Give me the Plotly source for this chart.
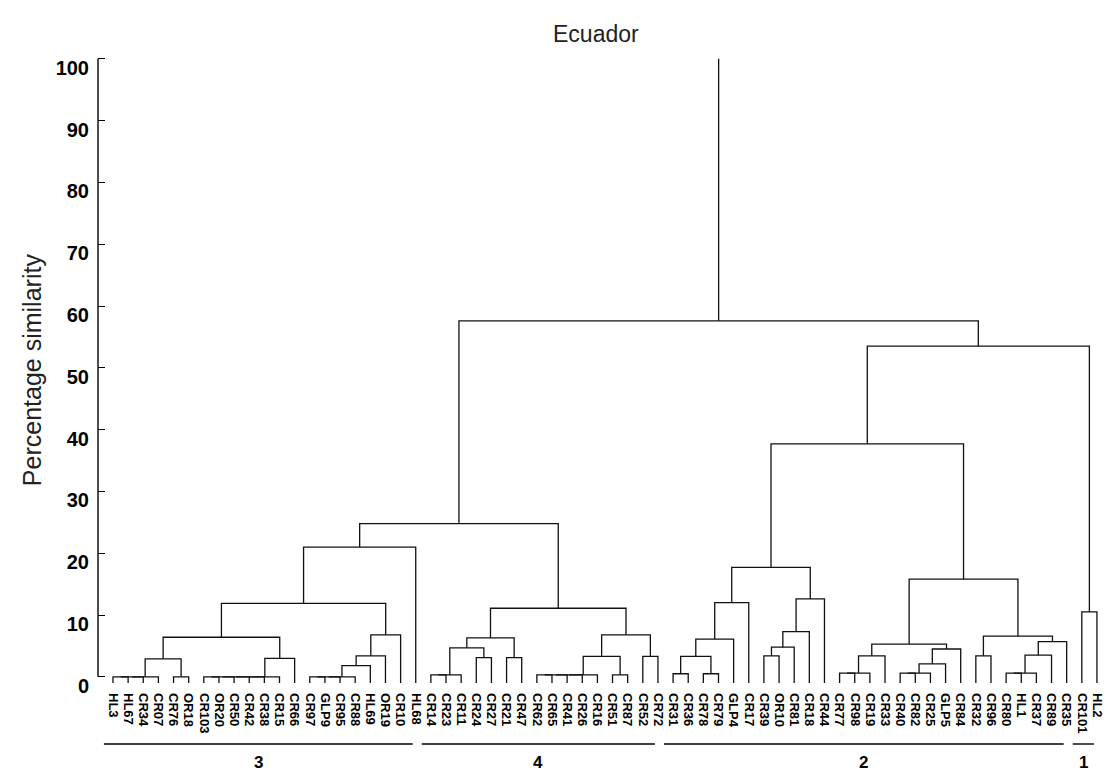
import plotly.graph_objects as go

# ---------------- data ----------------
leaves = ["HL3", "HL67", "CR34", "CR07", "CR76", "OR18", "CR103", "OR20", "CR50", "CR42",
          "CR38", "CR15", "CR66", "CR97", "GLP9", "CR95", "CR88", "HL69", "OR19", "CR10",
          "HL68",
          "CR14", "CR23", "CR11", "CR24", "CR27", "CR21", "CR47", "CR62", "CR65", "CR41",
          "CR26", "CR16", "CR51", "CR87", "CR52", "CR72",
          "CR31", "CR36", "CR78", "CR79", "GLP4", "CR17", "CR39", "OR10", "CR81", "CR18",
          "CR44", "CR77", "CR98", "CR19", "CR33", "CR40", "CR82", "CR25", "GLP5", "CR84",
          "CR32", "CR96", "CR80", "HL1", "CR37", "CR89", "CR35",
          "CR101", "HL2"]

# (node id, left child, right child, percentage similarity at merge)
merges_cluster3 = [
    ("a1", "HL3", "HL67", 0.0), ("a2", "a1", "CR34", 0.0), ("a3", "a2", "CR07", 0.0),
    ("a4", "CR76", "OR18", 0.0), ("a5", "a3", "a4", 2.9),
    ("a6", "CR103", "OR20", 0.0), ("a7", "a6", "CR50", 0.0), ("a8", "a7", "CR42", 0.0),
    ("a9", "a8", "CR38", 0.0), ("a10", "a9", "CR15", 0.0), ("a11", "a10", "CR66", 3.0),
    ("a12", "a5", "a11", 6.4),
    ("a13", "CR97", "GLP9", 0.0), ("a14", "a13", "CR95", 0.0), ("a15", "a14", "CR88", 0.0),
    ("a16", "a15", "HL69", 1.8), ("a17", "a16", "OR19", 3.4), ("a18", "a17", "CR10", 6.8),
    ("a19", "a12", "a18", 11.9), ("a20", "a19", "HL68", 21.0),
]
merges_cluster4 = [
    ("b1", "CR14", "CR23", 0.3), ("b2", "b1", "CR11", 0.3), ("b3", "CR24", "CR27", 3.1),
    ("b4", "b2", "b3", 4.7), ("b5", "CR21", "CR47", 3.1), ("b6", "b4", "b5", 6.3),
    ("b7", "CR62", "CR65", 0.3), ("b8", "b7", "CR41", 0.3), ("b9", "b8", "CR26", 0.3),
    ("b10", "b9", "CR16", 0.3), ("b11", "CR51", "CR87", 0.3), ("b12", "b10", "b11", 3.3),
    ("b13", "CR52", "CR72", 3.3), ("b14", "b12", "b13", 6.8), ("b15", "b6", "b14", 11.1),
]
merges_cluster2 = [
    ("c1", "CR31", "CR36", 0.5), ("c2", "CR78", "CR79", 0.5), ("c3", "c1", "c2", 3.3),
    ("c4", "c3", "GLP4", 6.1), ("c5", "c4", "CR17", 12.0),
    ("c6", "CR39", "OR10", 3.4), ("c7", "c6", "CR81", 4.8), ("c8", "c7", "CR18", 7.3),
    ("c9", "c8", "CR44", 12.6), ("c10", "c5", "c9", 17.7),
    ("c11", "CR77", "CR98", 0.6), ("c12", "c11", "CR19", 0.6), ("c13", "c12", "CR33", 3.4),
    ("c14", "CR40", "CR82", 0.6), ("c15", "c14", "CR25", 0.6), ("c16", "c15", "GLP5", 2.1),
    ("c17", "c16", "CR84", 4.5), ("c18", "c13", "c17", 5.3),
    ("c19", "CR32", "CR96", 3.4), ("c20", "CR80", "HL1", 0.6), ("c21", "c20", "CR37", 0.6),
    ("c22", "c21", "CR89", 3.5), ("c23", "c22", "CR35", 5.7), ("c24", "c19", "c23", 6.6),
    ("c25", "c18", "c24", 15.8), ("c26", "c10", "c25", 37.7),
]
merges_cluster1 = [("d1", "CR101", "HL2", 10.5)]
merges_top = [
    ("e1", "a20", "b15", 24.8),
    ("e2", "c26", "d1", 53.5),
    ("root", "e1", "e2", 57.6),
]
root_top = 100.0

clusters = ["3", "4", "2", "1"]
cluster_first = ["HL3", "CR14", "CR31", "CR101"]
cluster_last = ["HL68", "CR72", "CR35", "HL2"]

yticks = [0, 10, 20, 30, 40, 50, 60, 70, 80, 90, 100]

# ---------------- build dendrogram segments ----------------
LEAF_BOTTOM = -1.0
xpos = {name: i for i, name in enumerate(leaves)}
ypos = {name: LEAF_BOTTOM for name in leaves}
xs, ys = [], []
all_merges = merges_cluster3 + merges_cluster4 + merges_cluster2 + merges_cluster1 + merges_top
for node, a, b, h in all_merges:
    xa, ya, xb, yb = xpos[a], ypos[a], xpos[b], ypos[b]
    xs += [xa, xa, xb, xb, None]
    ys += [ya, h, h, yb, None]
    xpos[node] = (xa + xb) / 2.0
    ypos[node] = h
xs += [xpos["root"], xpos["root"], None]
ys += [ypos["root"], root_top, None]

fig = go.Figure()
fig.add_trace(go.Scatter(x=xs, y=ys, mode="lines",
                         line=dict(color="#111111", width=1.3),
                         hoverinfo="skip", showlegend=False))

# ---------------- layout ----------------
W, H = 1108, 777
L, R, T, B = 98, 3, 57, 94
x_range = [-0.99, 65.4]
y_range = [-1.0, 100.3]

font_main = "Liberation Sans, Arial, Helvetica, sans-serif"

fig.update_layout(
    width=W, height=H,
    margin=dict(l=L, r=R, t=T, b=B, pad=0),
    paper_bgcolor="white", plot_bgcolor="white",
    font=dict(family=font_main, color="black"),
    xaxis=dict(range=x_range, showgrid=False, zeroline=False, showline=False,
               tickmode="array", tickvals=list(range(len(leaves))), ticktext=leaves,
               tickangle=90, ticks="", ticklabelstandoff=9,
               tickfont=dict(family=font_main, size=13, weight="bold", color="black")),
    yaxis=dict(range=y_range, showgrid=False, zeroline=False, showline=False,
               tickmode="array", tickvals=yticks, ticktext=[str(v) for v in yticks],
               ticks="inside", ticklen=7, tickwidth=1.4, tickcolor="black",
               ticklabelstandoff=8, ticklabelshift=9,
               tickfont=dict(family=font_main, size=20, weight="bold", color="black")),
)

# y axis line from 0 to 100
fig.add_shape(type="line", xref="paper", yref="y", x0=0, x1=0, y0=0, y1=100,
              line=dict(color="black", width=1.4))

# cluster bars and numbers below the labels
plot_h = H - T - B
def paper_y(px):
    return (H - B - px) / plot_h

for name, first, last in zip(clusters, cluster_first, cluster_last):
    i0, i1 = leaves.index(first), leaves.index(last)
    fig.add_shape(type="line", xref="x", yref="paper",
                  x0=i0 - 0.6, x1=i1 - 0.2, y0=paper_y(744), y1=paper_y(744),
                  line=dict(color="black", width=1.4))
    fig.add_annotation(x=(i0 + i1) / 2.0 - 0.4, y=paper_y(762), xref="x", yref="paper",
                       text=name, showarrow=False, yanchor="middle",
                       font=dict(family=font_main, size=17, weight="bold", color="black"))

# title and y-axis title
fig.add_annotation(x=(597 - L) / (W - L - R), y=paper_y(34), xref="paper", yref="paper",
                   text="Ecuador", showarrow=False, yanchor="middle",
                   font=dict(family=font_main, size=23, color="#222222"))
fig.add_annotation(x=(32 - L) / (W - L - R), y=paper_y(370), xref="paper", yref="paper",
                   text="Percentage similarity", showarrow=False, textangle=-90,
                   xanchor="center", yanchor="middle",
                   font=dict(family=font_main, size=25, color="#222222"))

fig.write_html("out.html")
